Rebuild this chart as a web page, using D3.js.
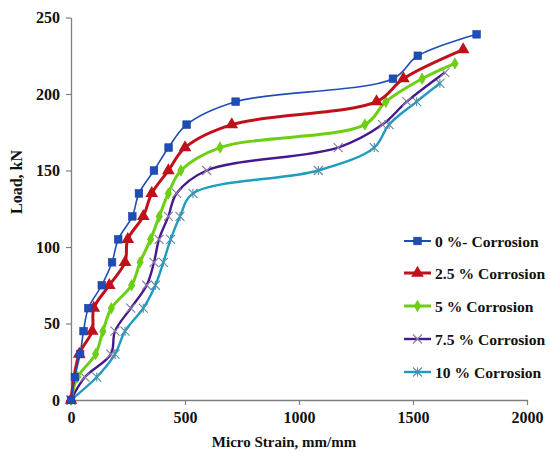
<!DOCTYPE html>
<html><head><meta charset="utf-8">
<script src="https://cdn.jsdelivr.net/npm/d3@7"></script>
<style>
body{margin:0;background:#fff;}
svg{display:block;}
text{font-family:"Liberation Serif","Times New Roman",serif;font-weight:bold;fill:#111;}
</style></head>
<body>
<svg id="c" width="550" height="452"></svg>
<script>
const seriesNames = ["0 %- Corrosion","2.5 % Corrosion","5 % Corrosion","7.5 % Corrosion","10 % Corrosion"];
const seriesColors = ["#1f4db8","#c0101a","#6ccf14","#46188e","#1f9cc0"];
const seriesMarkers = ["square","triangle","diamond","x","star"];
const strain0  = [0,17,40,55,76,135,180,207,269,298,364,428,507,722,1412,1521,1779];
const load0    = [0,15,30,45,60,75,90,105,120,135,150,165,180,195,210,225,239];
const strain25 = [0,36,93,100,168,237,249,317,354,427,500,705,1340,1458,1720];
const load25   = [0,30,45,60,75,90,105,120,135,150,165,180,195,210,229];
const strain5  = [0,29,108,140,177,266,303,349,387,427,482,654,1289,1381,1540,1684];
const load5    = [0,15,30,45,60,75,90,105,120,135,150,165,180,195,210,220];
const strain75 = [0,61,175,193,262,332,364,386,427,463,595,1172,1366,1473,1640];
const load75   = [0,15,30,45,60,75,90,105,120,135,150,165,180,195,214];
const strain10 = [0,113,193,237,317,370,405,437,478,535,1085,1330,1395,1516,1618];
const load10   = [0,15,30,45,60,75,90,105,120,135,150,165,180,195,207];
const xTicks = [0,500,1000,1500,2000];
const yTicks = [0,50,100,150,200,250];

const strains = [strain0,strain25,strain5,strain75,strain10];
const loads = [load0,load25,load5,load75,load10];
const widths = [1.6,3,3,2.4,2.4];

const svg = d3.select("#c");
const x = d3.scaleLinear().domain([0,2000]).range([71,527]);
const y = d3.scaleLinear().domain([0,250]).range([400,17.5]);

// axes
const xAxis = svg.append("g").attr("transform","translate(0,400)")
  .call(d3.axisBottom(x).tickValues(xTicks).tickSize(5).tickSizeOuter(0).tickFormat(d3.format("d")));
const yAxis = svg.append("g").attr("transform","translate(71,0)")
  .call(d3.axisLeft(y).tickValues(yTicks).tickSize(5).tickSizeOuter(0));
[xAxis,yAxis].forEach(a=>{
  a.select(".domain").attr("stroke","#7f7f7f").attr("stroke-width",1.3);
  a.selectAll(".tick line").attr("stroke","#7f7f7f").attr("stroke-width",1.2);
  a.selectAll(".tick text").attr("font-family","Liberation Serif").attr("font-weight","bold").attr("font-size",16).attr("fill","#111");
});
xAxis.selectAll(".tick text").attr("dy","0.95em").attr("y",8);
yAxis.selectAll(".tick text").attr("x",-11);

svg.append("text").attr("x",284).attr("y",447).attr("text-anchor","middle").attr("font-size",15).text("Micro Strain, mm/mm");
svg.append("text").attr("transform","translate(22,182) rotate(-90)").attr("text-anchor","middle").attr("font-size",16).text("Load, kN");

const line = d3.line().curve(d3.curveCatmullRom.alpha(0.5)).x(d=>x(d[0])).y(d=>y(d[1]));

function drawMarker(g, type, cx, cy, color){
  if(type==="square"){
    g.append("rect").attr("x",cx-3.8).attr("y",cy-3.8).attr("width",7.6).attr("height",7.6).attr("fill",color).attr("stroke","#1a3f9a").attr("stroke-width",0.6);
  } else if(type==="triangle"){
    g.append("path").attr("d",d3.symbol(d3.symbolTriangle,70)()).attr("transform",`translate(${cx},${cy})`).attr("fill",color);
  } else if(type==="diamond"){
    g.append("path").attr("d",d3.symbol(d3.symbolDiamond,45)()).attr("transform",`translate(${cx},${cy})`).attr("fill",color);
  } else if(type==="x"){
    const s=4.5;
    g.append("path").attr("d",`M${cx-s},${cy-s}L${cx+s},${cy+s}M${cx-s},${cy+s}L${cx+s},${cy-s}`).attr("stroke","#8a7fa8").attr("stroke-width",1.2);
  } else if(type==="star"){
    const s=4.5;
    g.append("path").attr("d",`M${cx-s},${cy-s}L${cx+s},${cy+s}M${cx-s},${cy+s}L${cx+s},${cy-s}M${cx},${cy-s}L${cx},${cy+s}`).attr("stroke","#4c90a8").attr("stroke-width",1.1);
  }
}

// draw series in reverse so blue is on top
for(let i=4;i>=0;i--){
  const pts = strains[i].map((s,j)=>[s,loads[i][j]]);
  const g = svg.append("g");
  g.append("path").datum(pts).attr("d",line).attr("fill","none").attr("stroke",seriesColors[i]).attr("stroke-width",widths[i]);
  pts.forEach(p=>drawMarker(g,seriesMarkers[i],x(p[0]),y(p[1]),seriesColors[i]));
}

// legend
const legY = [241,273,306,339,372];
seriesNames.forEach((n,i)=>{
  const g = svg.append("g");
  g.append("line").attr("x1",404).attr("x2",431).attr("y1",legY[i]).attr("y2",legY[i]).attr("stroke",seriesColors[i]).attr("stroke-width",widths[i]<2?2:widths[i]);
  drawMarker(g,seriesMarkers[i],417.5,legY[i],seriesColors[i]);
  g.append("text").attr("x",435).attr("y",legY[i]+5.5).attr("font-size",15.6).text(n);
});
</script>
</body></html>
